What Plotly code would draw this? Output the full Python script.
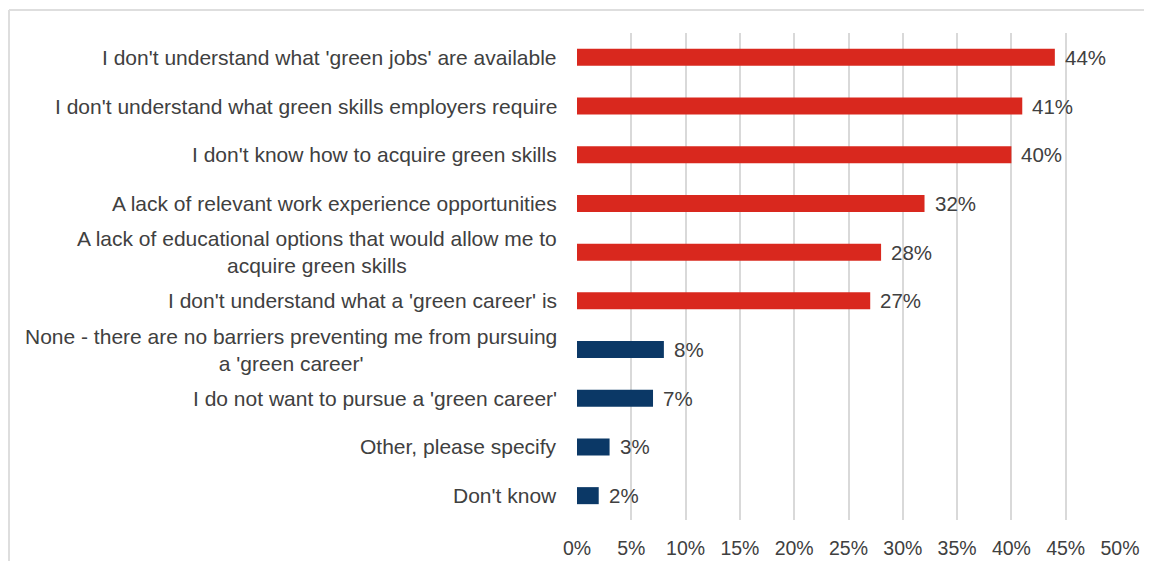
import plotly.graph_objects as go

categories = [
    "I don't understand what 'green jobs' are available",
    "I don't understand what green skills employers require",
    "I don't know how to acquire green skills",
    "A lack of relevant work experience opportunities",
    "A lack of educational options that would allow me to<br>acquire green skills",
    "I don't understand what a 'green career' is",
    "None - there are no barriers preventing me from pursuing<br>a 'green career'",
    "I do not want to pursue a 'green career'",
    "Other, please specify",
    "Don't know",
]
values = [44, 41, 40, 32, 28, 27, 8, 7, 3, 2]
groups = ["barrier"] * 6 + ["other"] * 4
tick_vals = [0, 5, 10, 15, 20, 25, 30, 35, 40, 45, 50]
tick_text = [f"{v}%" for v in tick_vals]

RED = "#d9281e"
NAVY = "#0b3866"
TXT = "#404040"
FONT = "Liberation Sans, Arial, sans-serif"
LAB_SIZE = 21
NUM_SIZE = 19.5
VAL_SIZE = 20.5

colors = [RED if g == "barrier" else NAVY for g in groups]
ids = [f"c{i}" for i in range(len(categories))]

fig = go.Figure(go.Bar(
    x=values, y=ids, orientation="h",
    marker=dict(color=colors, line=dict(width=0)),
    width=0.35,
    hoverinfo="x+y",
))

for cid, lab, v in zip(ids, categories, values):
    fig.add_annotation(x=0, y=cid, xref="paper", yref="y", text=lab,
                       showarrow=False, xanchor="right", yanchor="middle",
                       align="center", xshift=-18,
                       font=dict(size=LAB_SIZE, color=TXT, family=FONT))
    fig.add_annotation(x=v, y=cid, xref="x", yref="y", text=f"{v}%",
                       showarrow=False, xanchor="left", yanchor="middle",
                       xshift=8,
                       font=dict(size=VAL_SIZE, color=TXT, family=FONT))

# outer frame (top and left edges visible)
fig.add_shape(type="line", xref="paper", yref="paper", x0=-1.046, x1=1.2, y0=1.047, y1=1.047,
              line=dict(color="#dedede", width=2))
fig.add_shape(type="line", xref="paper", yref="paper", x0=-1.046, x1=-1.046, y0=1.047, y1=-0.2,
              line=dict(color="#dedede", width=2))

fig.update_layout(
    width=1144, height=553,
    margin=dict(l=569, r=32, t=25, b=41, autoexpand=False),
    paper_bgcolor="white", plot_bgcolor="white",
    showlegend=False,
    font=dict(family=FONT, size=NUM_SIZE, color=TXT),
)
fig.update_xaxes(range=[0, 50], tickvals=tick_vals, ticktext=tick_text,
                 showgrid=True, gridcolor="#d9d9d9", gridwidth=1.5,
                 zeroline=False, showline=False, ticks="",
                 ticklabelstandoff=14, automargin=False,
                 tickfont=dict(size=NUM_SIZE, color=TXT, family=FONT))
fig.update_yaxes(categoryorder="array", categoryarray=ids, autorange="reversed",
                 showticklabels=False, showgrid=False, zeroline=False, showline=False,
                 automargin=False)

fig.write_html("out.html")
